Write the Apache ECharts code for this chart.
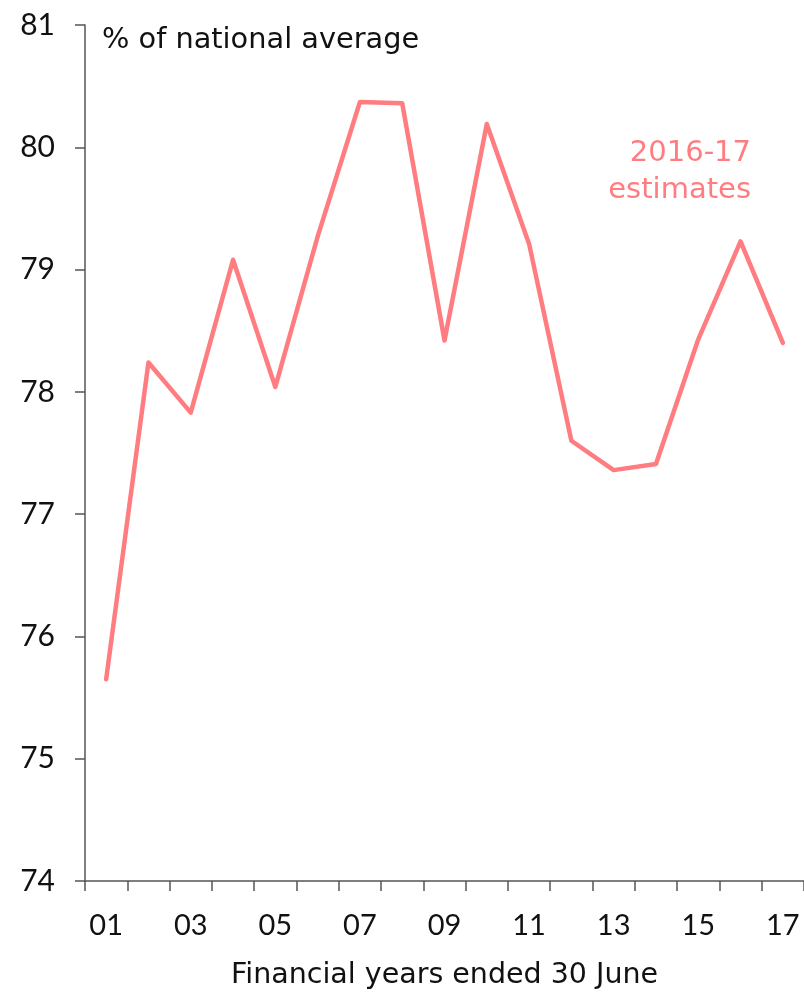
<!DOCTYPE html>
<html>
<head>
<meta charset="utf-8">
<script src="https://cdn.jsdelivr.net/npm/echarts@6/dist/echarts.min.js"></script>
<style>
  html, body { margin: 0; padding: 0; background: #fff; }
  #chart { width: 804px; height: 995px; }
</style>
</head>
<body>
<div id="chart"></div>
<script>
const years = [ '01', '02', '03', '04', '05', '06', '07', '08', '09', '10', '11', '12', '13', '14', '15', '16', '17' ]
const share = [ 75.65, 78.24, 77.83, 79.08, 78.04, 79.27, 80.37, 80.36, 78.42, 80.19, 79.21, 77.6, 77.36, 77.41, 78.43, 79.23, 78.4 ]
const noteLines = [ '2016-17', 'estimates' ]

const numFont = 'Lato'
const textFont = 'DejaVu Sans'
const pink = '#ff7c80'
const axisGrey = '#555'

const chart = echarts.init( document.getElementById( 'chart' ), null, { renderer: 'canvas' } )

chart.setOption( {
	animation: false,
	grid: { left: 85, right: -2, top: 25, bottom: 111.5 },
	xAxis: {
		type: 'category',
		data: years,
		boundaryGap: true,
		name: 'Financial years ended 30 June',
		nameLocation: 'middle',
		nameGap: 80,
		nameTextStyle: { fontFamily: textFont, fontSize: 28.5, color: '#111' },
		axisLine: { lineStyle: { color: axisGrey, width: 1.5 } },
		axisTick: { show: true, interval: 0, length: 10, lineStyle: { color: axisGrey, width: 1.5 } },
		axisLabel: { interval: 1, margin: 30, fontFamily: numFont, fontSize: 29, color: '#111' },
		splitLine: { show: false }
	},
	yAxis: {
		type: 'value',
		min: 74,
		max: 81,
		interval: 1,
		axisLine: { show: true, lineStyle: { color: axisGrey, width: 1.5 } },
		axisTick: { show: true, length: 10, lineStyle: { color: axisGrey, width: 1.5 } },
		axisLabel: { margin: 30, fontFamily: numFont, fontSize: 30, color: '#111' },
		splitLine: { show: false }
	},
	series: [ {
		type: 'line',
		data: share,
		symbol: 'none',
		lineStyle: { color: pink, width: 4.5, join: 'round', cap: 'round' }
	} ],
	graphic: [
		{
			type: 'text',
			left: 102,
			top: 26,
			style: { text: '% of national average', fontFamily: textFont, fontSize: 28.8, fill: '#111' }
		},
		{
			type: 'text',
			right: 53,
			top: 139,
			style: { text: noteLines[ 0 ], fontFamily: textFont, fontSize: 29, fill: pink }
		},
		{
			type: 'text',
			right: 53,
			top: 176,
			style: { text: noteLines[ 1 ], fontFamily: textFont, fontSize: 29, fill: pink }
		}
	]
} )
</script>
</body>
</html>
